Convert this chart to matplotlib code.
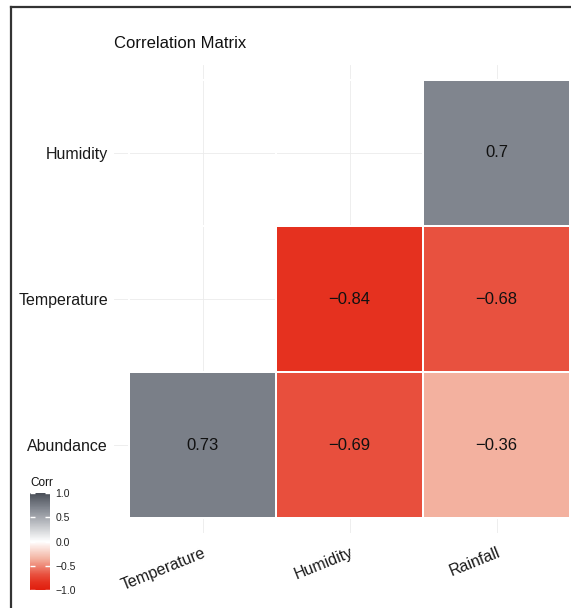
import numpy as np
import matplotlib
matplotlib.use("Agg")
import matplotlib.pyplot as plt
from matplotlib.colors import LinearSegmentedColormap
from matplotlib.lines import Line2D

plt.rcParams['font.family'] = ['Liberation Sans', 'DejaVu Sans']
plt.rcParams['axes.unicode_minus'] = True

# data
col_labels = ["Temperature", "Humidity", "Rainfall"]
row_labels = ["Abundance", "Temperature", "Humidity"]  # bottom to top
corr = np.array([
    [0.73, -0.69, -0.36],
    [np.nan, -0.84, -0.68],
    [np.nan, np.nan, 0.70],
])
value_text = [
    ["0.73", "\u22120.69", "\u22120.36"],
    ["", "\u22120.84", "\u22120.68"],
    ["", "", "0.7"],
]

cmap = LinearSegmentedColormap.from_list("corr", [
    (0.00, "#E01E0E"),
    (0.08, "#E5311F"),
    (0.16, "#E85240"),
    (0.32, "#F3B2A0"),
    (0.50, "#FFFFFF"),
    (0.85, "#80858E"),
    (1.00, "#4A4F58"),
])

W, H = 571, 608
fig = plt.figure(figsize=(W / 100, H / 100), dpi=100)

# panel: limits 0.4..3.6, tiles 0.5..3.5
px_left, px_right = 114.3, 584.7
px_top, px_bottom = 65.3, 532.7
ax = fig.add_axes([px_left / W, 1 - px_bottom / H,
                   (px_right - px_left) / W, (px_bottom - px_top) / H])

edges = np.arange(0.5, 4.0, 1.0)
mesh = ax.pcolormesh(edges, edges, np.ma.masked_invalid(corr), cmap=cmap,
                     vmin=-1, vmax=1, edgecolor="white", linewidth=1.3)

for i in range(len(row_labels)):
    for j in range(len(col_labels)):
        if value_text[i][j]:
            ax.text(j + 1, i + 1, value_text[i][j], ha="center", va="center",
                    fontsize=12, color="#111111")

ax.set_xlim(0.4, 3.6)
ax.set_ylim(0.4, 3.6)
ax.set_xticks([1, 2, 3])
ax.set_yticks([1, 2, 3])
ax.set_xticklabels(col_labels, rotation=22, ha="right", va="top",
                   rotation_mode="anchor", fontsize=11.5, color="#1A1A1A")
ax.set_yticklabels(row_labels, fontsize=11.5, color="#1A1A1A")
ax.tick_params(length=0)
ax.tick_params(axis="y", pad=4.5)
ax.tick_params(axis="x", pad=9)
ax.grid(True, color="#EBEBEB", linewidth=0.6)
ax.set_axisbelow(True)
for s in ax.spines.values():
    s.set_visible(False)

fig.text(114 / W, 1 - 48 / H, "Correlation Matrix", fontsize=12,
         ha="left", va="baseline", color="#111111")

# legend colorbar
cax = fig.add_axes([30 / W, 1 - 590 / H, 20 / W, 97 / H])
cb = fig.colorbar(mesh, cax=cax, ticks=[-1, -0.5, 0, 0.5, 1])
cb.outline.set_visible(False)
cb.ax.set_yticklabels(["\u22121.0", "\u22120.5", "0.0", "0.5", "1.0"])
cb.ax.yaxis.set_ticks_position("both")
cb.ax.tick_params(direction="in", color="white", length=3.5, width=1,
                  labelsize=7.5, labelcolor="#222222", pad=4)
fig.text(30 / W, 1 - 486 / H, "Corr", fontsize=8.5, ha="left",
         va="baseline", color="#111111")

# outer frame
fig.add_artist(Line2D([11 / W, 11 / W], [0, 1 - 7 / H],
                      transform=fig.transFigure, color="#333333", lw=1.6))
fig.add_artist(Line2D([11 / W, 1], [1 - 7 / H, 1 - 7 / H],
                      transform=fig.transFigure, color="#333333", lw=1.6))

fig.savefig("out.png", dpi=100)
